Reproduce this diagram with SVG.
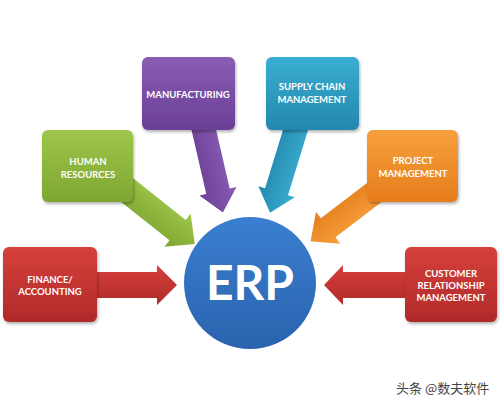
<svg xmlns="http://www.w3.org/2000/svg" width="500" height="407" viewBox="0 0 500 407">
<defs>
<linearGradient id="gRed" x1="0" y1="0" x2="0" y2="1"><stop offset="0" stop-color="#d6403c"/><stop offset="1" stop-color="#b02a28"/></linearGradient>
<linearGradient id="gGreen" x1="0" y1="0" x2="0" y2="1"><stop offset="0" stop-color="#9ec64a"/><stop offset="1" stop-color="#7ea632"/></linearGradient>
<linearGradient id="gPurple" x1="0" y1="0" x2="0" y2="1"><stop offset="0" stop-color="#8a5db3"/><stop offset="1" stop-color="#6a3f96"/></linearGradient>
<linearGradient id="gBlue" x1="0" y1="0" x2="0" y2="1"><stop offset="0" stop-color="#3aaed2"/><stop offset="1" stop-color="#2487ad"/></linearGradient>
<linearGradient id="gOrange" x1="0" y1="0" x2="0" y2="1"><stop offset="0" stop-color="#f7a03c"/><stop offset="1" stop-color="#e57d1c"/></linearGradient>
<linearGradient id="gErp" x1="0" y1="0" x2="0" y2="1"><stop offset="0" stop-color="#3a7fd0"/><stop offset="1" stop-color="#2a63ae"/></linearGradient>
<filter id="sh" x="-10%" y="-10%" width="125%" height="125%"><feDropShadow dx="1" dy="2" stdDeviation="1.5" flood-color="#000" flood-opacity="0.3"/></filter>
</defs>
<style>
.box{filter:url(#sh)}
.lbl{font-family:Lato,"Open Sans","Liberation Sans",sans-serif;font-weight:bold;font-size:9.5px;fill:#fff;text-anchor:middle}
.erp{font-family:Lato,"Open Sans","Liberation Sans",sans-serif;font-weight:bold;font-size:48px;fill:#fff;text-anchor:middle}
.wm{font-family:"Noto Sans CJK SC","Noto Sans",sans-serif;font-size:13px;fill:#444}
</style>
<rect width="500" height="407" fill="#fff"/>
<g id="connectors">
<polygon points="97,272 157,272 157,265 177,285 157,305 157,298 97,298" fill="url(#gRed)"/>
<polygon points="405,272 343,272 343,265 324,285 343,305 343,298 405,298" fill="url(#gRed)"/>
<polygon transform="translate(122,186) rotate(38.5)" points="0,-13 71,-13 71,-21 93,0 71,21 71,13 0,13" fill="url(#gGreen)"/>
<polygon transform="translate(202,122) rotate(77)" points="0,-12 71,-12 71,-19 93,0 71,19 71,12 0,12" fill="url(#gPurple)"/>
<polygon transform="translate(298,122) rotate(107.1)" points="0,-12 73,-12 73,-19 95,0 73,19 73,12 0,12" fill="url(#gBlue)"/>
<polygon transform="translate(375,192) rotate(142.6)" points="0,-12 59,-12 59,-20 81,0 59,20 59,12 0,12" fill="url(#gOrange)"/>
</g>
<g id="finance"><rect class="box" x="3" y="247" width="94" height="75" rx="6" fill="url(#gRed)"/><text class="lbl" x="50" y="283">FINANCE/</text><text class="lbl" x="50" y="295">ACCOUNTING</text></g>
<g id="hr"><rect class="box" x="42" y="130" width="91" height="72" rx="6" fill="url(#gGreen)"/><text class="lbl" x="88" y="165">HUMAN</text><text class="lbl" x="88" y="178">RESOURCES</text></g>
<g id="manufacturing"><rect class="box" x="142" y="57" width="93" height="73" rx="6" fill="url(#gPurple)"/><text class="lbl" x="188" y="98">MANUFACTURING</text></g>
<g id="supply"><rect class="box" x="266" y="57" width="93" height="73" rx="6" fill="url(#gBlue)"/><text class="lbl" x="312" y="90">SUPPLY CHAIN</text><text class="lbl" x="312" y="103">MANAGEMENT</text></g>
<g id="project"><rect class="box" x="367" y="130" width="91" height="72" rx="6" fill="url(#gOrange)"/><text class="lbl" x="413" y="164">PROJECT</text><text class="lbl" x="413" y="177">MANAGEMENT</text></g>
<g id="customer"><rect class="box" x="405" y="247" width="92" height="75" rx="6" fill="url(#gRed)"/><text class="lbl" x="451" y="277">CUSTOMER</text><text class="lbl" x="451" y="289">RELATIONSHIP</text><text class="lbl" x="451" y="301">MANAGEMENT</text></g>
<g id="erp"><circle cx="250" cy="283" r="66" fill="url(#gErp)"/><text class="erp" x="250" y="300">ERP</text></g>
<text class="wm" x="396" y="393">头条 @数夫软件</text>
</svg>
